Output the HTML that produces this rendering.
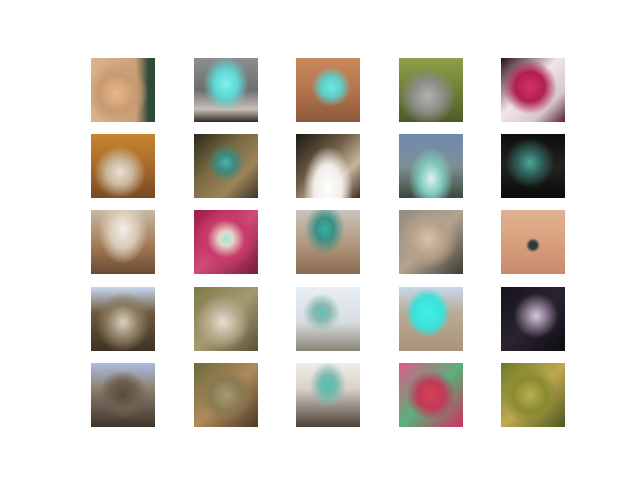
<!DOCTYPE html>
<html><head><meta charset="utf-8"><style>
html,body{margin:0;padding:0;background:#fff;}
#fig{position:relative;width:640px;height:480px;background:#fff;overflow:hidden;}
.t{position:absolute;width:64px;height:64px;}
</style></head><body>
<div id="fig"></div>
<script>
const tiles = [
 ["radial-gradient(circle at 40% 55%,#e8b98a 0,#c89a70 35%,transparent 60%)","linear-gradient(90deg,#d9b48f 0,#caa07a 70%,#2f4a3a 90%)"],
 ["radial-gradient(ellipse at 50% 40%,#7ff0ea 0,#5fd8d6 25%,transparent 50%)","linear-gradient(180deg,#8a8f90 0,#6c6f70 50%,#c9bfb8 80%,#2d2a2a 100%)"],
 ["radial-gradient(ellipse at 55% 45%,#70e6dc 0,#5fcfc8 20%,transparent 40%)","linear-gradient(180deg,#c98a5c 0,#b7734c 50%,#8a5a3e 100%)"],
 ["radial-gradient(circle at 45% 60%,#b0b3ad 0,#8b8c85 30%,transparent 55%)","linear-gradient(180deg,#8fa04a 0,#6f8036 50%,#4d5a2a 100%)"],
 ["radial-gradient(circle at 45% 45%,#d2306a 0,#b0204e 30%,transparent 55%)","linear-gradient(135deg,#2a0d18 0,#f2e6e8 45%,#d6c5cc 75%,#5a1f2e 100%)"],
 ["radial-gradient(circle at 45% 60%,#e9e0d2 0,#c9b79a 25%,transparent 50%)","linear-gradient(180deg,#c8862e 0,#a86a2a 50%,#7a4a22 100%)"],
 ["radial-gradient(circle at 50% 45%,#4fb3a6 0,#3c8a80 18%,transparent 40%)","linear-gradient(135deg,#2c2a1c 0,#7a6a42 40%,#9c8358 70%,#3e3626 100%)"],
 ["radial-gradient(ellipse at 50% 85%,#ffffff 0,#f2efea 30%,transparent 55%)","linear-gradient(135deg,#1e1a15 0,#6b5a45 40%,#c9b39a 70%,#3a2f25 100%)"],
 ["radial-gradient(ellipse at 50% 70%,#dff2ee 0,#7fc9bd 25%,transparent 50%)","linear-gradient(180deg,#6e8ab0 0,#7d8f95 50%,#3c4a3c 100%)"],
 ["radial-gradient(circle at 45% 45%,#4aa79a 0,#2f5e57 25%,transparent 50%)","linear-gradient(180deg,#0c0d0c 0,#22231e 50%,#0a0a0a 100%)"],
 ["radial-gradient(ellipse at 50% 30%,#f3eee6 0,#d8c9b5 30%,transparent 55%)","linear-gradient(180deg,#c7b8a4 0,#a37b55 55%,#6a4a34 100%)"],
 ["radial-gradient(circle at 50% 45%,#9ee8dd 0,#e6d7c8 15%,#c83a6a 40%,transparent 65%)","linear-gradient(135deg,#a01a45 0,#d04a7a 50%,#7a1a3a 100%)"],
 ["radial-gradient(ellipse at 45% 30%,#2fb3a5 0,#3c8f85 18%,transparent 40%)","linear-gradient(180deg,#c9c4bd 0,#b39a80 50%,#8a6a50 100%)"],
 ["radial-gradient(circle at 45% 45%,#d4c3ad 0,#b5a08a 35%,transparent 60%)","linear-gradient(135deg,#8f8a80 0,#b3a391 50%,#3b3a32 100%)"],
 ["radial-gradient(circle at 50% 55%,#2d3a40 0,#2d3a40 8%,transparent 15%)","linear-gradient(180deg,#e0b292 0,#d8a07c 50%,#c88a6c 100%)"],
 ["radial-gradient(ellipse at 50% 55%,#d8d0c0 0,#8a7a60 35%,transparent 60%)","linear-gradient(180deg,#c8d8f0 0,#6e5a40 40%,#3e3222 100%)"],
 ["radial-gradient(circle at 45% 55%,#e6dfd0 0,#b8ac90 30%,transparent 55%)","linear-gradient(135deg,#7e7a48 0,#a49a70 50%,#5a5236 100%)"],
 ["radial-gradient(ellipse at 40% 40%,#5fc2b5 0,#8ab7b0 15%,transparent 35%)","linear-gradient(180deg,#e8eef2 0,#d8dde0 55%,#8a8478 100%)"],
 ["radial-gradient(ellipse at 45% 40%,#40f0e6 0,#3ee0d8 30%,transparent 45%)","linear-gradient(180deg,#c8d8ec 0,#b9ac96 40%,#a8947a 100%)"],
 ["radial-gradient(circle at 55% 45%,#d8c8d8 0,#8a7a90 20%,transparent 45%)","linear-gradient(135deg,#15121a 0,#2a2430 50%,#0e0c12 100%)"],
 ["radial-gradient(ellipse at 50% 50%,#5a4a3a 0,#6e6050 30%,transparent 55%)","linear-gradient(180deg,#aebce0 0,#8a8070 40%,#3e342a 100%)"],
 ["radial-gradient(circle at 50% 50%,#a89a70 0,#8a7a52 35%,transparent 60%)","linear-gradient(135deg,#6a6a3a 0,#b08a5a 50%,#4a3a26 100%)"],
 ["radial-gradient(ellipse at 50% 35%,#4fc0b0 0,#7ab8ae 18%,transparent 40%)","linear-gradient(180deg,#f0eeea 0,#d8d2c8 40%,#4a4038 100%)"],
 ["radial-gradient(circle at 50% 50%,#d84050 0,#c03a5a 30%,transparent 55%)","linear-gradient(135deg,#e05a8a 0,#5ab07a 50%,#d03060 100%)"],
 ["radial-gradient(circle at 45% 50%,#b8b050 0,#8a8a30 35%,transparent 60%)","linear-gradient(135deg,#6a7a28 0,#c0a850 50%,#4a5a20 100%)"]
];
const colX = [91, 193.6, 296.2, 398.8, 501.4];
const rowY = [57.6, 134, 210.4, 286.8, 363.2];
const fig = document.getElementById('fig');
tiles.forEach((bg, i) => {
  const d = document.createElement('div');
  d.className = 't';
  d.style.left = colX[i % 5] + 'px';
  d.style.top = rowY[Math.floor(i / 5)] + 'px';
  d.style.background = bg.join(',');
  
  
  fig.appendChild(d);
});
</script>
</body></html>
